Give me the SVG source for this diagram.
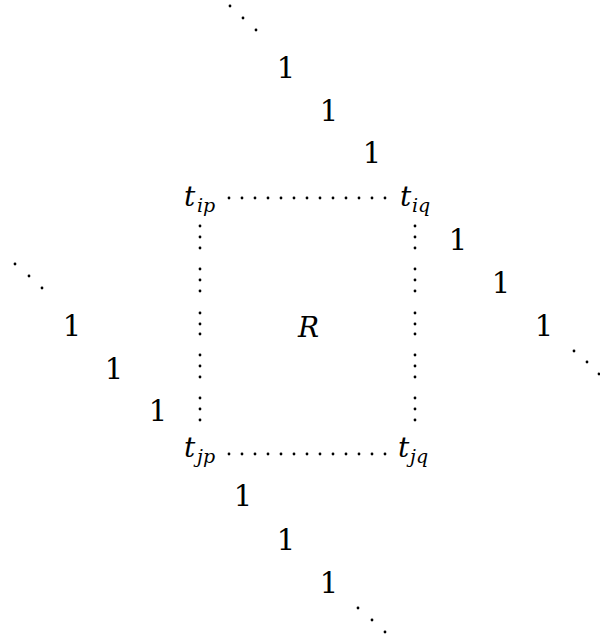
<svg xmlns="http://www.w3.org/2000/svg" width="600" height="639" viewBox="0 0 600 639">
<style>
.n{font-size:29px;text-anchor:middle}
.v{font-size:28px;font-style:italic}
.s{font-size:19px;font-style:italic}
</style>
<defs><circle id="dt" r="1.4"/></defs>
<rect width="600" height="639" fill="#fff"/>
<g font-family="DejaVu Serif, serif" fill="#000">
<g id="top-diag">
<use href="#dt" x="230" y="6"/><use href="#dt" x="243" y="18"/><use href="#dt" x="256" y="30"/>
<text class="n" x="286" y="78">1</text>
<text class="n" x="329" y="121">1</text>
<text class="n" x="372" y="163">1</text>
</g>
<g id="left-diag">
<use href="#dt" x="15" y="264"/><use href="#dt" x="29" y="276"/><use href="#dt" x="42" y="288"/>
<text class="n" x="72" y="336">1</text>
<text class="n" x="114" y="379">1</text>
<text class="n" x="158" y="421">1</text>
</g>
<g id="right-diag">
<text class="n" x="458" y="250">1</text>
<text class="n" x="501" y="293">1</text>
<text class="n" x="544" y="336">1</text>
<use href="#dt" x="574" y="351"/><use href="#dt" x="587" y="362"/><use href="#dt" x="599" y="374"/>
</g>
<g id="bottom-diag">
<text class="n" x="243" y="506">1</text>
<text class="n" x="286" y="550">1</text>
<text class="n" x="329" y="593">1</text>
<use href="#dt" x="358" y="608"/><use href="#dt" x="372" y="620"/><use href="#dt" x="385" y="632"/>
</g>
<g id="t-ip"><text class="v" x="184" y="206">t</text><text class="s" x="197" y="212">ip</text></g>
<g id="t-iq"><text class="v" x="400" y="206">t</text><text class="s" x="412" y="212">iq</text></g>
<g id="t-jp"><text class="v" x="184" y="457">t</text><text class="s" x="197" y="463">jp</text></g>
<g id="t-jq"><text class="v" x="398" y="457">t</text><text class="s" x="410" y="463">jq</text></g>
<g id="R"><text class="v" x="298" y="337">R</text></g>
</g>
<g id="dots">
<g id="top-row">
<use href="#dt" x="229" y="198"/><use href="#dt" x="242" y="198"/><use href="#dt" x="255" y="198"/><use href="#dt" x="268" y="198"/><use href="#dt" x="281" y="198"/><use href="#dt" x="294" y="198"/><use href="#dt" x="307" y="198"/><use href="#dt" x="320" y="198"/><use href="#dt" x="333" y="198"/><use href="#dt" x="346" y="198"/><use href="#dt" x="359" y="198"/><use href="#dt" x="372" y="198"/><use href="#dt" x="385" y="198"/>
</g>
<g id="bottom-row">
<use href="#dt" x="229" y="454"/><use href="#dt" x="242" y="454"/><use href="#dt" x="255" y="454"/><use href="#dt" x="268" y="454"/><use href="#dt" x="281" y="454"/><use href="#dt" x="294" y="454"/><use href="#dt" x="307" y="454"/><use href="#dt" x="320" y="454"/><use href="#dt" x="333" y="454"/><use href="#dt" x="346" y="454"/><use href="#dt" x="359" y="454"/><use href="#dt" x="372" y="454"/><use href="#dt" x="385" y="454"/>
</g>
<g id="left-col">
<use href="#dt" x="200" y="226"/><use href="#dt" x="200" y="237"/><use href="#dt" x="200" y="248"/>
<use href="#dt" x="200" y="269"/><use href="#dt" x="200" y="280"/><use href="#dt" x="200" y="291"/>
<use href="#dt" x="200" y="313"/><use href="#dt" x="200" y="324"/><use href="#dt" x="200" y="334"/>
<use href="#dt" x="200" y="355"/><use href="#dt" x="200" y="366"/><use href="#dt" x="200" y="377"/>
<use href="#dt" x="200" y="398"/><use href="#dt" x="200" y="409"/><use href="#dt" x="200" y="420"/>
</g>
<g id="right-col">
<use href="#dt" x="415" y="226"/><use href="#dt" x="415" y="237"/><use href="#dt" x="415" y="248"/>
<use href="#dt" x="415" y="269"/><use href="#dt" x="415" y="280"/><use href="#dt" x="415" y="291"/>
<use href="#dt" x="415" y="313"/><use href="#dt" x="415" y="324"/><use href="#dt" x="415" y="334"/>
<use href="#dt" x="415" y="355"/><use href="#dt" x="415" y="366"/><use href="#dt" x="415" y="377"/>
<use href="#dt" x="415" y="398"/><use href="#dt" x="415" y="409"/><use href="#dt" x="415" y="420"/>
</g>
</g>
</svg>
